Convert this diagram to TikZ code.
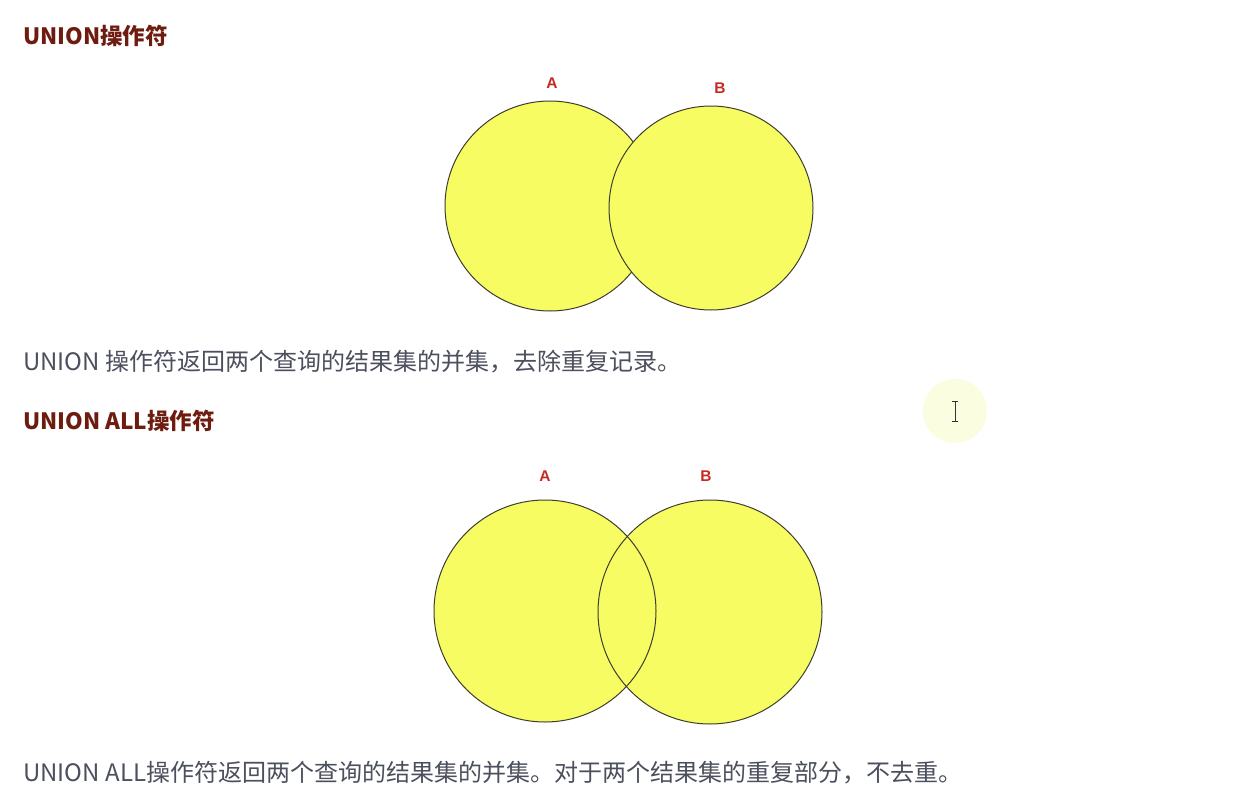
\documentclass[tikz,border=0pt]{standalone}
\usepackage{fontspec}
\setmainfont{Noto Sans CJK SC}
\newfontfamily\labfont{Liberation Sans}
\definecolor{headred}{HTML}{6E1C10}
\definecolor{bodygray}{HTML}{4C505E}
\definecolor{labred}{HTML}{C62A22}
\definecolor{vennfill}{HTML}{F6FC62}
\definecolor{vennline}{HTML}{3E3E30}
\definecolor{halo}{HTML}{FBFDE0}
\begin{document}
\begin{tikzpicture}[x=1pt,y=-1pt,
  heading/.style={anchor=west,inner sep=0pt,font=\fontsize{22.5}{26}\selectfont\bfseries,text=headred},
  bodytext/.style={anchor=west,inner sep=0pt,font=\fontsize{24}{28}\selectfont,text=bodygray},
  setlabel/.style={inner sep=0pt,font=\labfont\fontsize{15.5}{17}\selectfont\bfseries,text=labred},
  vennset/.style={circle,inner sep=0pt,fill=vennfill,draw=vennline,line width=1pt}]
\useasboundingbox (0,0) rectangle (1260,808);
\fill[white] (0,0) rectangle (1260,808);

% ---- UNION
\node[heading] (h1) at (23,36) {UNION操作符};
\node[vennset,minimum size=210pt] (a1) at (550,206) {};
\node[vennset,minimum size=204pt] (b1) at (711,208) {};
\node[setlabel] (la1) at (552,83) {A};
\node[setlabel] (lb1) at (720,88) {B};
\node[bodytext] (t1) at (23,362) {UNION 操作符返回两个查询的结果集的并集，去除重复记录。};

% ---- UNION ALL
\node[heading] (h2) at (23,421) {UNION ALL操作符};
\node[circle,inner sep=0pt,fill=vennfill,minimum size=222pt] (a2) at (545,611) {};
\node[circle,inner sep=0pt,fill=vennfill,minimum size=224pt] (b2) at (710,612) {};
\draw[vennline,line width=1pt] (a2.center) circle (111pt);
\draw[vennline,line width=1pt] (b2.center) circle (112pt);
\node[setlabel] (la2) at (545,476) {A};
\node[setlabel] (lb2) at (706,476) {B};
\node[bodytext] (t2) at (23,773) {UNION ALL操作符返回两个查询的结果集的并集。对于两个结果集的重复部分，不去重。};

% ---- mouse cursor highlight
\node[circle,inner sep=0pt,fill=halo,minimum size=64pt] (cur) at (955,411) {};
\draw[black!80,line width=0.9pt] ([yshift=-10pt]cur.center) -- ([yshift=10pt]cur.center);
\draw[black!80,line width=0.9pt] ([xshift=-3pt,yshift=-10pt]cur.center) -- ([xshift=3pt,yshift=-10pt]cur.center);
\draw[black!80,line width=0.9pt] ([xshift=-3pt,yshift=10pt]cur.center) -- ([xshift=3pt,yshift=10pt]cur.center);
\end{tikzpicture}
\end{document}
